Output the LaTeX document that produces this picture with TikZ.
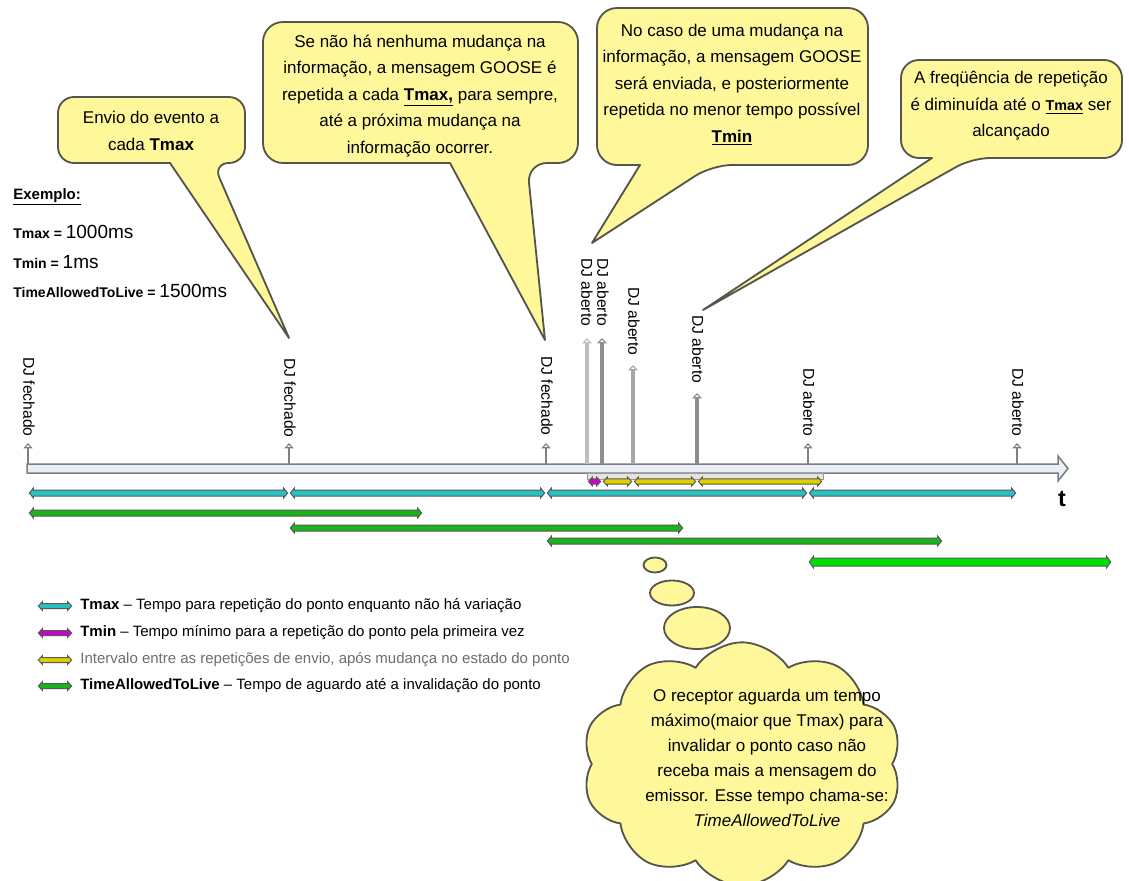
\documentclass[tikz,border=0pt]{standalone}
\usepackage{fontspec}
\setmainfont{Liberation Sans}
\usetikzlibrary{calc,arrows.meta,shapes.symbols}

\definecolor{bubblefill}{RGB}{255,248,155}
\definecolor{bubbleedge}{RGB}{85,85,75}
\definecolor{axisfill}{RGB}{234,238,246}
\definecolor{axisedge}{RGB}{125,125,130}
\definecolor{tmaxc}{RGB}{40,192,192}
\definecolor{tminc}{RGB}{205,0,205}
\definecolor{intc}{RGB}{220,208,0}
\definecolor{ttlc}{RGB}{25,180,25}
\definecolor{ttlbright}{RGB}{0,222,0}
\definecolor{legendgray}{RGB}{110,110,110}

% double-headed interval bar between two points: from, to, fill, half-thickness, half-head
\newcommand\timebar[5]{%
  \filldraw[barline,fill=#3] let \p1=(#1), \p2=(#2) in
    (\x1+0.8pt,\y1) -- (\x1+3.2pt,\y1+#5) -- (\x1+3.2pt,\y1+#4)
    -- (\x2-3.2pt,\y2+#4) -- (\x2-3.2pt,\y2+#5) -- (\x2-0.8pt,\y2)
    -- (\x2-3.2pt,\y2-#5) -- (\x2-3.2pt,\y2-#4)
    -- (\x1+3.2pt,\y1-#4) -- (\x1+3.2pt,\y1-#5) -- cycle;}

\begin{document}
\begin{tikzpicture}[x=0.6pt,y=-0.6pt,
  bubblestyle/.style={draw=bubbleedge, line width=1.1pt, fill=bubblefill, line join=round},
  callouttext/.style={align=center, font=\fontsize{10.2}{15.9}\selectfont, inner sep=0pt},
  evlabel/.style={rotate=-90, anchor=west, font=\fontsize{9.4}{10}\selectfont, inner sep=0pt},
  tick/.style={draw=gray, line width=1.2pt, -{Triangle[length=3.2pt,width=5.5pt,fill=white,line width=0.7pt]}},
  tall/.style={line width=2.6pt, -{Triangle[length=3.2pt,width=5.8pt,fill=white,line width=0.7pt]}},
  barline/.style={draw=black!65, line width=0.6pt},
  legtext/.style={anchor=west, font=\fontsize{9}{10}\selectfont, inner sep=0pt},
  extext/.style={anchor=west, inner sep=0pt}]

\useasboundingbox (0,0) rectangle (1129,881);
\fill[white] (0,0) rectangle (1129,881);

% ---------- callouts ----------
\filldraw[bubblestyle] (151,97) [rounded corners=9.6pt] -- (245,97) -- (245,163) -- (213,163)
  [sharp corners] -- (289,338) -- (170,163) [rounded corners=9.6pt] -- (58,163) -- (58,97) -- cycle;
\node[callouttext] (note1) at (151,131) {Envio do evento a\\cada \textbf{Tmax}};

\filldraw[bubblestyle] (420,22) [rounded corners=12pt] -- (578,22) -- (578,163) -- (527,163)
  [sharp corners] -- (545,340) -- (450,163) [rounded corners=12pt] -- (263,163) -- (263,22) -- cycle;
\node[callouttext] (note2) at (420,96) {Se não há nenhuma mudança na\\informação, a mensagem GOOSE é\\repetida a cada \underline{\textbf{Tmax,}} para sempre,\\até a próxima mudança na\\informação ocorrer.};

\filldraw[bubblestyle] (732,8) [rounded corners=12pt] -- (868,8) -- (868,165) -- (712,165)
  [sharp corners] -- (592,243) -- (640,165) [rounded corners=12pt] -- (597,165) -- (597,8) -- cycle;
\node[callouttext] (note3) at (732,85) {No caso de uma mudança na\\informação, a mensagem GOOSE\\será enviada, e posteriormente\\repetida no menor tempo possível\\\underline{\textbf{Tmin}}};

\filldraw[bubblestyle] (1011,60) [rounded corners=10.8pt] -- (1122,60) -- (1122,158) -- (972,158)
  [sharp corners] -- (703,310) -- (932,158) [rounded corners=10.8pt] -- (901,158) -- (901,60) -- cycle;
\node[callouttext] (note4) at (1011,106) {A freqüência de repetição\\é diminuída até o \underline{\textbf{\fontsize{8.6}{10}\selectfont Tmax}} ser\\alcançado};

% ---------- example values ----------
\node[extext, font=\fontsize{9}{10}\selectfont\bfseries] (ex0) at (13,197) {\underline{Exemplo:}};
\node[extext] (ex1) at (13,232) {\fontsize{8.4}{10}\selectfont\textbf{Tmax =} \fontsize{11.4}{12}\selectfont 1000ms};
\node[extext] (ex2) at (13,262) {\fontsize{8.4}{10}\selectfont\textbf{Tmin =} \fontsize{11.4}{12}\selectfont 1ms};
\node[extext] (ex3) at (13,291) {\fontsize{8.4}{10}\selectfont\textbf{TimeAllowedToLive =} \fontsize{11.4}{12}\selectfont 1500ms};

% ---------- time axis ----------
\filldraw[draw=axisedge, fill=axisfill, line width=0.9pt, line join=miter]
  (27,464) -- (1058,464) -- (1058,456) -- (1068,468.5) -- (1058,481) -- (1058,473) -- (27,473) -- cycle;
\node[font=\fontsize{14}{16}\selectfont\bfseries, inner sep=0pt] (tlabel) at (1062,499) {t};

% events on the axis
\coordinate (e1) at (28,464);  \coordinate (t1) at (28,443);
\coordinate (e2) at (289,464); \coordinate (t2) at (289,443);
\coordinate (e3) at (546,464); \coordinate (t3) at (546,443);
\coordinate (e4) at (587,464); \coordinate (t4) at (587,338);
\coordinate (e5) at (602,464); \coordinate (t5) at (602,338);
\coordinate (e6) at (633,464); \coordinate (t6) at (633,365);
\coordinate (e7) at (697,464); \coordinate (t7) at (697,393);
\coordinate (e8) at (808,464); \coordinate (t8) at (808,443);
\coordinate (e9) at (1017,464);\coordinate (t9) at (1017,443);

\node[evlabel] (lab1) at (29,357) {DJ fechado};
\node[evlabel] (lab2) at (290,358) {DJ fechado};
\node[evlabel] (lab3) at (547,356) {DJ fechado};
\node[evlabel] (lab4) at (587,258) {DJ aberto};
\node[evlabel] (lab5) at (603,258) {DJ aberto};
\node[evlabel] (lab6) at (634,287) {DJ aberto};
\node[evlabel] (lab7) at (698,315) {DJ aberto};
\node[evlabel] (lab8) at (809,368) {DJ aberto};
\node[evlabel] (lab9) at (1018,368) {DJ aberto};

\draw[tick] (e1) -- (t1);
\draw[tick] (e2) -- (t2);
\draw[tick] (e3) -- (t3);
\draw[tick] (e8) -- (t8);
\draw[tick] (e9) -- (t9);
\draw[tall, draw={rgb,255:red,188;green,190;blue,195}] (e4) -- (t4);
\draw[tall, draw={rgb,255:red,140;green,142;blue,147}] (e5) -- (t5);
\draw[tall, draw={rgb,255:red,165;green,167;blue,172}] (e6) -- (t6);
\draw[tall, draw={rgb,255:red,138;green,140;blue,145}] (e7) -- (t7);

% ---------- interval rows ----------
\coordinate (rY) at (0,481.5);
\coordinate (rC) at (0,493);
\coordinate (rG1) at (0,513);
\coordinate (rG2) at (0,528);
\coordinate (rG3) at (0,541);
\coordinate (rG4) at (0,562);
\coordinate (yEnd) at (823,481.5);
\coordinate (g1) at (423,513);
\coordinate (g2) at (684,528);
\coordinate (g3) at (943,541);
\coordinate (g4) at (1112,562);

\filldraw[draw=gray!80, fill=gray!22, line width=0.5pt] (587,473) rectangle (823,479);

\timebar{e4 |- rY}{e5 |- rY}{tminc}{1.6pt}{2.6pt}
\timebar{e5 |- rY}{e6 |- rY}{intc}{1.6pt}{2.6pt}
\timebar{e6 |- rY}{e7 |- rY}{intc}{1.6pt}{2.6pt}
\timebar{e7 |- rY}{yEnd}{intc}{1.6pt}{2.6pt}

\timebar{e1 |- rC}{e2 |- rC}{tmaxc}{1.8pt}{2.9pt}
\timebar{e2 |- rC}{e3 |- rC}{tmaxc}{1.8pt}{2.9pt}
\timebar{e3 |- rC}{e8 |- rC}{tmaxc}{1.8pt}{2.9pt}
\timebar{e8 |- rC}{e9 |- rC}{tmaxc}{1.8pt}{2.9pt}

\timebar{e1 |- rG1}{g1}{ttlc}{1.8pt}{2.9pt}
\timebar{e2 |- rG2}{g2}{ttlc}{1.8pt}{2.9pt}
\timebar{e3 |- rG3}{g3}{ttlc}{1.8pt}{2.9pt}
\timebar{e8 |- rG4}{g4}{ttlbright}{2.4pt}{3.4pt}

% ---------- legend ----------
\coordinate (k1a) at (37,606); \coordinate (k1b) at (73,606);
\coordinate (k2a) at (37,633); \coordinate (k2b) at (73,633);
\coordinate (k3a) at (37,660); \coordinate (k3b) at (73,660);
\coordinate (k4a) at (37,686); \coordinate (k4b) at (73,686);
\timebar{k1a}{k1b}{tmaxc}{1.5pt}{2.6pt}
\timebar{k2a}{k2b}{tminc}{1.5pt}{2.6pt}
\timebar{k3a}{k3b}{intc}{1.5pt}{2.6pt}
\timebar{k4a}{k4b}{ttlc}{1.5pt}{2.6pt}
\node[legtext] (leg1) at (80,606) {\textbf{Tmax} – Tempo para repetição do ponto enquanto não há variação};
\node[legtext] (leg2) at (80,633) {\textbf{Tmin} – Tempo mínimo para a repetição do ponto pela primeira vez};
\node[legtext, text=legendgray] (leg3) at (80,660) {Intervalo entre as repetições de envio, após mudança no estado do ponto};
\node[legtext] (leg4) at (80,686) {\textbf{TimeAllowedToLive} – Tempo de aguardo até a invalidação do ponto};

% ---------- thought cloud ----------
\filldraw[bubblestyle] (655,565) ellipse [x radius=6.9pt, y radius=4.5pt];
\filldraw[bubblestyle] (672,593) ellipse [x radius=13.2pt, y radius=7.5pt];
\filldraw[bubblestyle] (697,628) ellipse [x radius=19.8pt, y radius=12.6pt];
\node[cloud, cloud puffs=10, cloud puff arc=115, cloud ignores aspect, bubblestyle,
      minimum width=192pt, minimum height=146pt, inner sep=0pt] (thought) at (742,764) {};
\node[align=center, font=\fontsize{10.2}{15}\selectfont, inner sep=0pt] (thoughttext) at (767,758)
  {O receptor aguarda um tempo\\máximo(maior que Tmax) para\\invalidar o ponto caso não\\receba mais a mensagem do\\emissor. Esse tempo chama-se:\\\textit{TimeAllowedToLive}};

\end{tikzpicture}
\end{document}
